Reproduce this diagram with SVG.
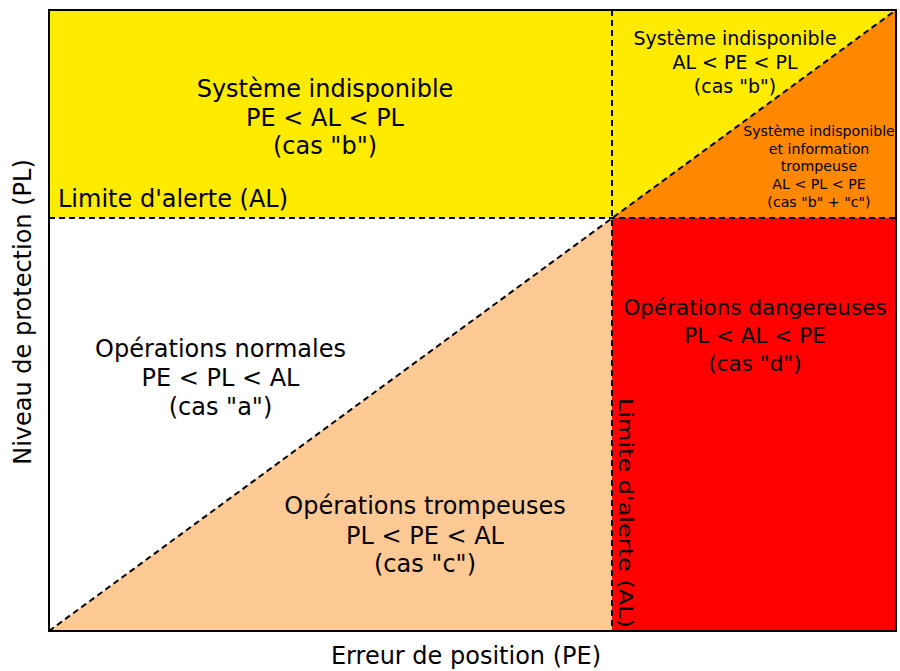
<svg xmlns="http://www.w3.org/2000/svg" width="900" height="671" viewBox="0 0 900 671">
<style>
text{font-family:"DejaVu Sans","Liberation Sans",sans-serif;fill:#000;}
.big{font-size:24px;text-anchor:middle;}
.dng{font-size:21.5px;text-anchor:middle;}
.mid{font-size:19px;text-anchor:middle;}
.sm{font-size:14.2px;text-anchor:middle;}
.ax{font-size:24px;}
.dash{fill:none;stroke:#000;stroke-width:2;stroke-dasharray:6,4;}
</style>
<rect width="900" height="671" fill="#fff"/>
<g id="zones">
<rect id="zone-b" x="49" y="10" width="847" height="208" fill="#ffeb00"/>
<polygon id="zone-bc" points="612,218 896,10 896,218" fill="#ff8800"/>
<rect id="zone-d" x="612" y="218" width="284" height="413" fill="#ff0000"/>
<polygon id="zone-c" points="49,631 612,218 612,631" fill="#fdca96"/>
</g>
<g id="lines">
<line class="dash" x1="49" y1="218" x2="896" y2="218"/>
<line class="dash" x1="612" y1="10" x2="612" y2="631"/>
<line class="dash" x1="49" y1="631" x2="896" y2="10"/>
<rect x="49" y="10" width="847" height="621" fill="none" stroke="#000" stroke-width="2"/>
</g>
<g id="label-b">
<text class="big" x="325" y="97">Système indisponible</text>
<text class="big" x="325" y="125.5">PE &lt; AL &lt; PL</text>
<text class="big" x="325" y="154">(cas "b")</text>
</g>
<g id="label-b2">
<text class="mid" x="735" y="45">Système indisponible</text>
<text class="mid" x="735" y="69">AL &lt; PE &lt; PL</text>
<text class="mid" x="735" y="93">(cas "b")</text>
</g>
<g id="label-bc">
<text class="sm" x="819" y="136">Système indisponible</text>
<text class="sm" x="819" y="153.5">et information</text>
<text class="sm" x="819" y="171">trompeuse</text>
<text class="sm" x="819" y="189">AL &lt; PL &lt; PE</text>
<text class="sm" x="819" y="206.5">(cas "b" + "c")</text>
</g>
<g id="label-a">
<text class="big" x="220.5" y="357">Opérations normales</text>
<text class="big" x="220.5" y="386">PE &lt; PL &lt; AL</text>
<text class="big" x="220.5" y="414.5">(cas "a")</text>
</g>
<g id="label-c">
<text class="big" x="425" y="514">Opérations trompeuses</text>
<text class="big" x="425" y="543.5">PL &lt; PE &lt; AL</text>
<text class="big" x="425" y="572">(cas "c")</text>
</g>
<g id="label-d">
<text class="dng" x="755" y="315">Opérations dangereuses</text>
<text class="dng" x="755" y="343">PL &lt; AL &lt; PE</text>
<text class="dng" x="755" y="371">(cas "d")</text>
</g>
<g id="al-labels">
<text class="ax" x="58" y="207">Limite d'alerte (AL)</text>
<text class="ax" transform="translate(619,398) rotate(90) scale(1,0.8)">Limite d'alerte (AL)</text>
</g>
<g id="axes">
<text class="ax" text-anchor="middle" x="466" y="664">Erreur de position (PE)</text>
<text class="ax" text-anchor="middle" transform="translate(31,312) rotate(-90)">Niveau de protection (PL)</text>
</g>
</svg>
